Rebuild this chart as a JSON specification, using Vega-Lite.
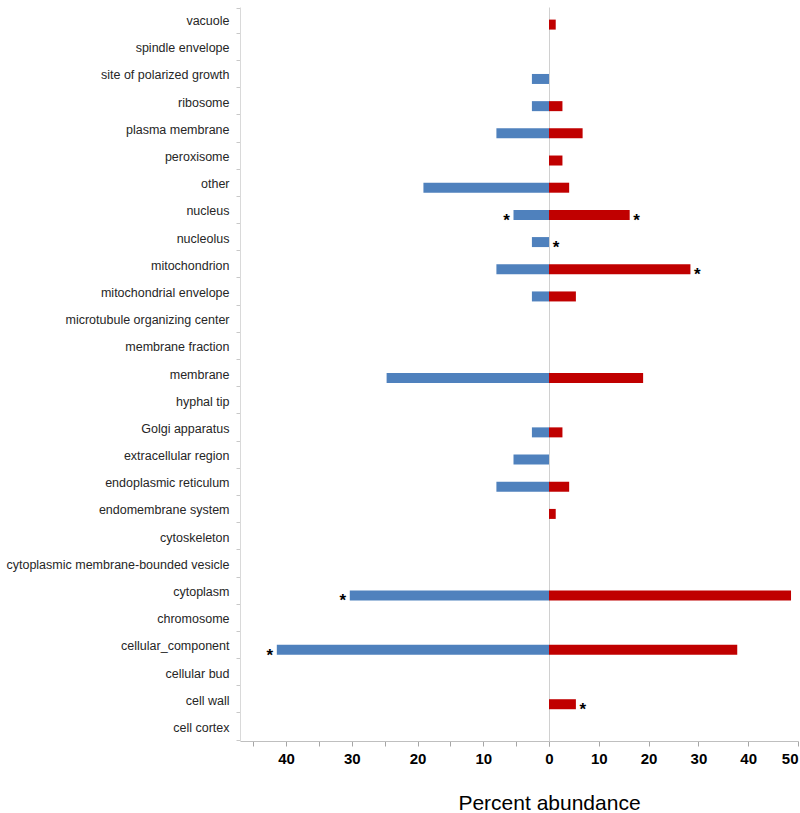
{
  "$schema": "https://vega.github.io/schema/vega-lite/v6.json",
  "padding": {"left": 5, "top": 1, "right": 2, "bottom": 0},
  "background": "white",
  "bounds": "flush",
  "config": {"view": {"stroke": null}, "font": "Liberation Sans"},
  "data": {"values": [
    {"cat": "vacuole", "blue": null, "red": 1.35, "starB": "", "starR": ""},
    {"cat": "spindle envelope", "blue": null, "red": null, "starB": "", "starR": ""},
    {"cat": "site of polarized growth", "blue": 2.6, "red": null, "starB": "", "starR": ""},
    {"cat": "ribosome", "blue": 2.6, "red": 2.7, "starB": "", "starR": ""},
    {"cat": "plasma membrane", "blue": 8.0, "red": 6.75, "starB": "", "starR": ""},
    {"cat": "peroxisome", "blue": null, "red": 2.7, "starB": "", "starR": ""},
    {"cat": "other", "blue": 19.1, "red": 4.05, "starB": "", "starR": ""},
    {"cat": "nucleus", "blue": 5.4, "red": 16.2, "starB": "*", "starR": "*"},
    {"cat": "nucleolus", "blue": 2.6, "red": 0, "starB": "", "starR": "*"},
    {"cat": "mitochondrion", "blue": 8.0, "red": 28.4, "starB": "", "starR": "*"},
    {"cat": "mitochondrial envelope", "blue": 2.6, "red": 5.4, "starB": "", "starR": ""},
    {"cat": "microtubule organizing center", "blue": null, "red": null, "starB": "", "starR": ""},
    {"cat": "membrane fraction", "blue": null, "red": null, "starB": "", "starR": ""},
    {"cat": "membrane", "blue": 24.7, "red": 18.9, "starB": "", "starR": ""},
    {"cat": "hyphal tip", "blue": null, "red": null, "starB": "", "starR": ""},
    {"cat": "Golgi apparatus", "blue": 2.6, "red": 2.7, "starB": "", "starR": ""},
    {"cat": "extracellular region", "blue": 5.4, "red": null, "starB": "", "starR": ""},
    {"cat": "endoplasmic reticulum", "blue": 8.0, "red": 4.05, "starB": "", "starR": ""},
    {"cat": "endomembrane system", "blue": null, "red": 1.35, "starB": "", "starR": ""},
    {"cat": "cytoskeleton", "blue": null, "red": null, "starB": "", "starR": ""},
    {"cat": "cytoplasmic membrane-bounded vesicle", "blue": null, "red": null, "starB": "", "starR": ""},
    {"cat": "cytoplasm", "blue": 30.3, "red": 48.6, "starB": "*", "starR": ""},
    {"cat": "chromosome", "blue": null, "red": null, "starB": "", "starR": ""},
    {"cat": "cellular_component", "blue": 41.4, "red": 37.8, "starB": "*", "starR": ""},
    {"cat": "cellular bud", "blue": null, "red": null, "starB": "", "starR": ""},
    {"cat": "cell wall", "blue": null, "red": 5.4, "starB": "", "starR": "*"},
    {"cat": "cell cortex", "blue": null, "red": null, "starB": "", "starR": ""}
  ]},
  "spacing": 0,
  "hconcat": [
    {
      "width": 309,
      "height": 734,
      "encoding": {
        "y": {"field": "cat", "type": "nominal", "sort": null,
          "scale": {"domain": ["vacuole","spindle envelope","site of polarized growth","ribosome","plasma membrane","peroxisome","other","nucleus","nucleolus","mitochondrion","mitochondrial envelope","microtubule organizing center","membrane fraction","membrane","hyphal tip","Golgi apparatus","extracellular region","endoplasmic reticulum","endomembrane system","cytoskeleton","cytoplasmic membrane-bounded vesicle","cytoplasm","chromosome","cellular_component","cellular bud","cell wall","cell cortex"]},
          "axis": {"title": null, "tickBand": "extent", "tickSize": 4, "tickColor": "#c8c8c8", "domainColor": "#d9d9d9", "labelFontSize": 12.5, "labelColor": "#262626", "labelPadding": 7, "labelLimit": 400, "labelFont": "Liberation Sans"}
        },
        "x": {"field": "blue", "type": "quantitative",
          "scale": {"domain": [0, 47], "reverse": true, "nice": false, "zero": true},
          "axis": {"title": null, "values": [0,5,10,15,20,25,30,35,40,45], "grid": false, "tickSize": 5, "tickColor": "#a6a6a6", "domainColor": "#bfbfbf",
            "labelExpr": "(datum.value % 10 == 0 && datum.value > 0) ? datum.label : ''",
            "labelFontSize": 15, "labelFontWeight": "bold", "labelColor": "#000000", "labelPadding": 5}
        }
      },
      "layer": [
        {"mark": {"type": "bar", "color": "#4F81BD", "size": 10, "yOffset": 4}},
        {"mark": {"type": "text", "fontSize": 17, "fontWeight": "bold", "color": "#000000", "align": "center", "baseline": "middle", "dx": -7, "dy": 6, "yOffset": 4},
          "encoding": {"text": {"field": "starB"}}}
      ]
    },
    {
      "width": 249,
      "height": 734,
      "encoding": {
        "y": {"field": "cat", "type": "nominal", "sort": null,
          "scale": {"domain": ["vacuole","spindle envelope","site of polarized growth","ribosome","plasma membrane","peroxisome","other","nucleus","nucleolus","mitochondrion","mitochondrial envelope","microtubule organizing center","membrane fraction","membrane","hyphal tip","Golgi apparatus","extracellular region","endoplasmic reticulum","endomembrane system","cytoskeleton","cytoplasmic membrane-bounded vesicle","cytoplasm","chromosome","cellular_component","cellular bud","cell wall","cell cortex"]},
          "axis": {"title": null, "labels": false, "ticks": false, "domainColor": "#d0d0d0"}
        },
        "x": {"field": "red", "type": "quantitative",
          "scale": {"domain": [0, 50], "nice": false},
          "axis": {"title": "Percent abundance", "values": [0,10,20,30,40,50], "grid": false, "tickSize": 5, "tickColor": "#a6a6a6", "domainColor": "#bfbfbf",
            "labelFontSize": 15, "labelFontWeight": "bold", "labelColor": "#000000", "labelPadding": 5, "labelFlush": false,
            "labelAlign": {"expr": "datum.value == 50 ? 'right' : 'center'"},
            "titleFontSize": 21, "titleFontWeight": "normal", "titleColor": "#000000", "titleX": 0, "titleY": 68, "titleAlign": "center", "titleBaseline": "alphabetic"}
        }
      },
      "layer": [
        {"mark": {"type": "bar", "color": "#C00000", "size": 10, "yOffset": 4}},
        {"mark": {"type": "text", "fontSize": 17, "fontWeight": "bold", "color": "#000000", "align": "center", "baseline": "middle", "dx": 7, "dy": 6, "yOffset": 4},
          "encoding": {"text": {"field": "starR"}}}
      ]
    }
  ]
}
